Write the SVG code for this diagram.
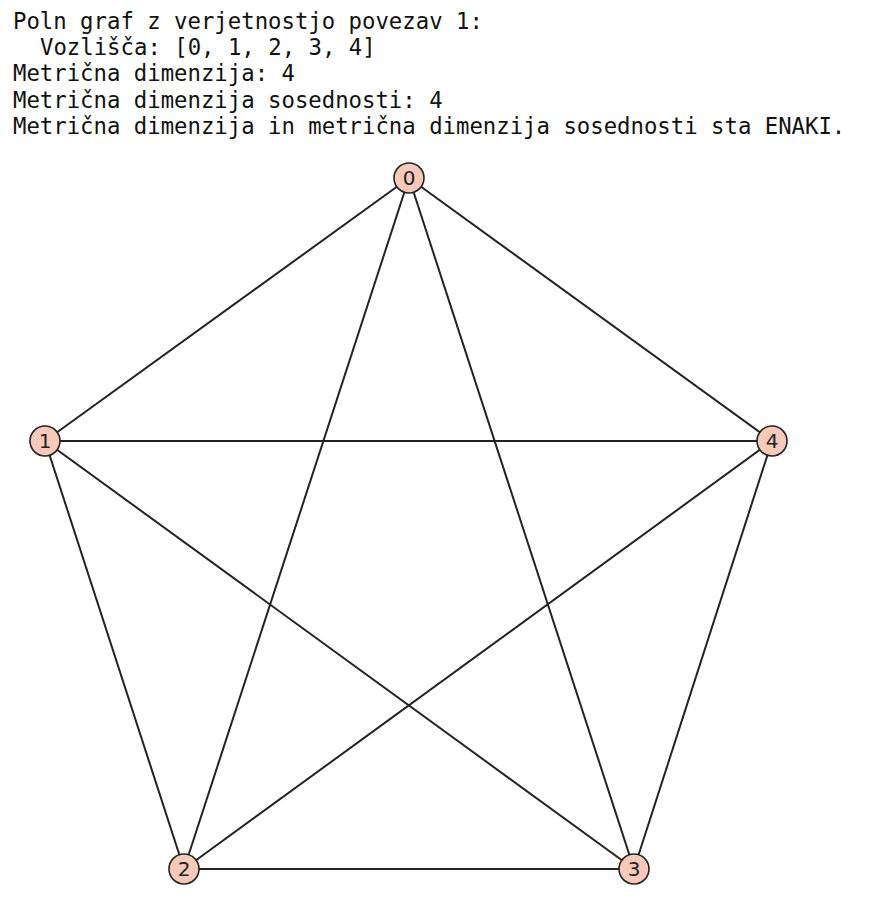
<svg xmlns="http://www.w3.org/2000/svg" width="894" height="904" viewBox="0 0 894 904">
<style>
.t{font-family:"DejaVu Sans Mono","Liberation Mono",monospace;font-size:22.3px;fill:#111;}
.e{stroke:#222;stroke-width:2;fill:none;}
.n circle{fill:#f6c9ba;stroke:#222;stroke-width:1.6;}
.n text{font-family:"DejaVu Sans","Liberation Sans",sans-serif;font-size:20px;fill:#222;text-anchor:middle;dominant-baseline:central;}
</style>
<rect width="894" height="904" fill="#fff"/>
<g id="header">
<text class="t" x="13" y="29">Poln graf z verjetnostjo povezav 1:</text>
<text class="t" x="40" y="55">Vozlišča: [0, 1, 2, 3, 4]</text>
<text class="t" x="13" y="81">Metrična dimenzija: 4</text>
<text class="t" x="13" y="107.5">Metrična dimenzija sosednosti: 4</text>
<text class="t" x="13" y="133.5">Metrična dimenzija in metrična dimenzija sosednosti sta ENAKI.</text>
</g>
<g id="edges">
<line class="e" x1="409" y1="178" x2="45" y2="441"/>
<line class="e" x1="409" y1="178" x2="184" y2="869"/>
<line class="e" x1="409" y1="178" x2="634" y2="869"/>
<line class="e" x1="409" y1="178" x2="772" y2="441"/>
<line class="e" x1="45" y1="441" x2="184" y2="869"/>
<line class="e" x1="45" y1="441" x2="634" y2="869"/>
<line class="e" x1="45" y1="441" x2="772" y2="441"/>
<line class="e" x1="184" y1="869" x2="634" y2="869"/>
<line class="e" x1="184" y1="869" x2="772" y2="441"/>
<line class="e" x1="634" y1="869" x2="772" y2="441"/>
</g>
<g id="node0" class="n"><circle cx="409" cy="178" r="15"/><text x="409" y="178">0</text></g>
<g id="node1" class="n"><circle cx="45" cy="441" r="15"/><text x="45" y="441">1</text></g>
<g id="node2" class="n"><circle cx="184" cy="869" r="15"/><text x="184" y="869">2</text></g>
<g id="node3" class="n"><circle cx="634" cy="869" r="15"/><text x="634" y="869">3</text></g>
<g id="node4" class="n"><circle cx="772" cy="441" r="15"/><text x="772" y="441">4</text></g>
</svg>
